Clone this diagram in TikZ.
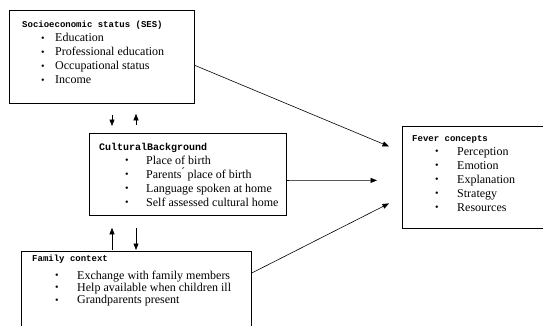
\documentclass[tikz,border=0pt]{standalone}
\usepackage{fontspec}
\setmainfont{Liberation Serif}
\newfontfamily\headfont{Liberation Mono}
\usetikzlibrary{arrows.meta,positioning,calc}

% heading and bullet item of a box
\newcommand{\hd}[1]{{\headfont\bfseries\fontsize{9}{14}\selectfont #1}}
\newcommand{\itm}[3]{\hspace*{#1}\makebox[#2][l]{\raisebox{0.5pt}{\fontsize{10}{10}\selectfont\textbullet}}#3}

\begin{document}
\begin{tikzpicture}[x=1pt,y=-1pt,
    box/.style={draw,line width=0.8pt,anchor=north west,inner sep=0pt},
    txt/.style={anchor=north west,inner sep=0pt,align=left,
                font=\fontsize{12}{14}\selectfont},
    arr/.style={-{Triangle[length=6.5pt,width=5pt]},line width=0.6pt}]
  \useasboundingbox (0,0) rectangle (543,325);
  \clip (0,0) rectangle (543,325);

  % boxes
  \node[box,minimum width=185,minimum height=93] (ses) at (9,10) {};
  \node[box,minimum width=197,minimum height=82] (cult) at (89,133) {};
  \node[box,minimum width=230,minimum height=100] (fam) at (21,251) {};
  \node[box,minimum width=160,minimum height=102] (fever) at (402,126) {};

  \node[txt] (sestxt) at (22,21)
    {\hd{Socioeconomic status (SES)}\\
     \itm{19pt}{14pt}{Education}\\
     \itm{19pt}{14pt}{Professional education}\\
     \itm{19pt}{14pt}{Occupational status}\\
     \itm{19pt}{14pt}{Income}};
  \node[txt] (culttxt) at (99,143)
    {\hd{\fontsize{10}{14}\selectfont CulturalBackground}\\
     \itm{26pt}{21pt}{Place of birth}\\
     \itm{26pt}{21pt}{Parents\'{} place of birth}\\
     \itm{26pt}{21pt}{Language spoken at home}\\
     \itm{26pt}{21pt}{Self assessed cultural home}};
  \node[txt,font=\fontsize{12}{12.3}\selectfont] (famtxt) at (32,255)
    {\hd{Family context}\\[5pt]
     \itm{23pt}{22pt}{Exchange with family members}\\
     \itm{23pt}{22pt}{Help available when children ill}\\
     \itm{23pt}{22pt}{Grandparents present}};
  \node[txt] (fevertxt) at (412,135)
    {\hd{Fever concepts}\\
     \itm{23pt}{22pt}{Perception}\\
     \itm{23pt}{22pt}{Emotion}\\
     \itm{23pt}{22pt}{Explanation}\\
     \itm{23pt}{22pt}{Strategy}\\
     \itm{23pt}{22pt}{Resources}};

  % influences on fever concepts
  \draw[arr] ($(ses.north east)!0.59!(ses.south east)$) -- ($(fever.west)+(-13,-31)$);
  \draw[arr] ($(cult.north east)!0.573!(cult.south east)$) -- ($(fever.west)+(-25,3)$);
  \draw[arr] ([yshift=-22pt]fam.north east) -- ($(fever.west)+(-13,26)$);

  % two-way links
  \draw[arr,shorten <=11pt,shorten >=7pt] ([xshift=103pt]ses.south west) -- ([xshift=23pt]cult.north west);
  \draw[arr,shorten <=8pt,shorten >=10pt] ([xshift=47pt]cult.north west) -- ([xshift=127pt]ses.south west);
  \draw[arr,shorten <=1pt,shorten >=12pt] ([xshift=91pt]fam.north west) -- ([xshift=23pt]cult.south west);
  \draw[arr,shorten <=12pt,shorten >=1pt] ([xshift=47pt]cult.south west) -- ([xshift=115pt]fam.north west);
\end{tikzpicture}
\end{document}
